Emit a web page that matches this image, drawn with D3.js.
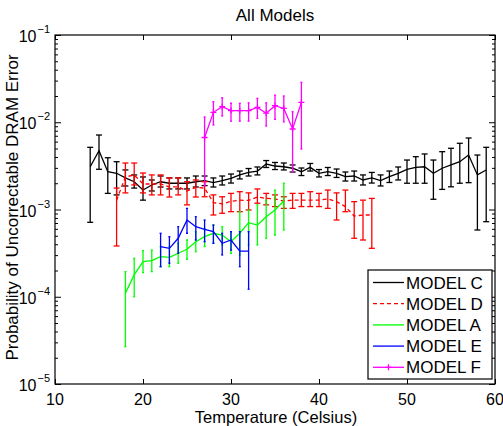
<!DOCTYPE html>
<html>
<head>
<meta charset="utf-8">
<script src="https://cdn.jsdelivr.net/npm/d3@7"></script>
<style>
  body { margin: 0; background: #fff; }
  text { font-family: "Liberation Sans", Arial, sans-serif; fill: #000; }
</style>
</head>
<body>
<div id="chart"></div>
<script>
// axis ticks
const xTicks = [10, 20, 30, 40, 50, 60];
const yExps = [-5, -4, -3, -2, -1];

// MODEL C
const tempC = [14,15,16,17,18,19,20,21,22,23,24,25,26,27,28,29,30,31,32,33,34,35,36,37,38,39,40,41,42,43,44,45,46,47,48,49,50,51,52,53,54,55,56,57,58,59];
const probC = [3.09e-3,4.72e-3,2.71e-3,2.60e-3,2.30e-3,2.08e-3,1.67e-3,1.91e-3,2.08e-3,2.00e-3,2.00e-3,2.00e-3,2.08e-3,2.14e-3,2.03e-3,2.14e-3,2.28e-3,2.49e-3,2.67e-3,2.76e-3,3.32e-3,3.15e-3,3.09e-3,2.97e-3,2.71e-3,3.04e-3,2.60e-3,2.71e-3,2.60e-3,2.38e-3,2.42e-3,2.18e-3,2.30e-3,2.14e-3,2.38e-3,2.60e-3,2.89e-3,3.04e-3,3.09e-3,2.60e-3,2.97e-3,3.24e-3,3.53e-3,4.21e-3,2.49e-3,2.84e-3];
const lowC  = [7.13e-4,2.89e-3,1.53e-3,1.47e-3,1.86e-3,1.76e-3,1.28e-3,1.63e-3,1.81e-3,1.72e-3,1.72e-3,1.72e-3,1.81e-3,1.88e-3,1.81e-3,1.91e-3,2.01e-3,2.24e-3,2.42e-3,2.49e-3,3.03e-3,2.87e-3,2.84e-3,2.69e-3,2.45e-3,2.76e-3,2.36e-3,2.45e-3,2.33e-3,2.12e-3,2.12e-3,1.91e-3,2.01e-3,1.86e-3,2.04e-3,2.18e-3,2.00e-3,2.00e-3,2.00e-3,1.31e-3,1.70e-3,1.82e-3,2.00e-3,2.03e-3,5.82e-4,7.25e-4];
const highC = [5.16e-3,7.14e-3,3.92e-3,3.53e-3,2.84e-3,2.49e-3,2.36e-3,2.18e-3,2.42e-3,2.30e-3,2.30e-3,2.30e-3,2.42e-3,2.42e-3,2.30e-3,2.42e-3,2.55e-3,2.76e-3,2.95e-3,3.07e-3,3.64e-3,3.46e-3,3.41e-3,3.24e-3,2.99e-3,3.37e-3,2.87e-3,3.03e-3,2.91e-3,2.69e-3,2.76e-3,2.49e-3,2.66e-3,2.49e-3,2.76e-3,3.07e-3,3.69e-3,4.03e-3,4.33e-3,3.69e-3,4.60e-3,5.03e-3,5.74e-3,6.60e-3,4.21e-3,5.16e-3];

// MODEL D
const tempD = [17,18,19,20,21,22,23,24,25,26,27,28,29,30,31,32,33,34,35,36,37,38,39,40,41,42,43,44,45,46];
const probD = [1.28e-3,2.36e-3,2.49e-3,1.96e-3,1.96e-3,1.96e-3,1.81e-3,1.82e-3,1.63e-3,1.79e-3,1.76e-3,1.20e-3,1.16e-3,1.24e-3,1.28e-3,1.27e-3,1.39e-3,1.34e-3,1.32e-3,1.25e-3,1.28e-3,1.28e-3,1.28e-3,1.28e-3,1.32e-3,1.23e-3,1.08e-3,8.42e-4,8.65e-4,8.65e-4];
const lowD  = [3.82e-4,1.55e-3,1.91e-3,1.55e-3,1.47e-3,1.47e-3,1.39e-3,1.47e-3,1.13e-3,1.39e-3,1.40e-3,8.65e-4,9.05e-4,9.44e-4,9.44e-4,9.87e-4,1.18e-3,1.13e-3,1.08e-3,1.03e-3,1.03e-3,1.08e-3,1.08e-3,1.08e-3,1.03e-3,7.58e-4,9.44e-4,4.68e-4,4.47e-4,3.59e-4];
const highD = [1.76e-3,3.41e-3,3.41e-3,2.62e-3,2.49e-3,2.49e-3,2.30e-3,2.30e-3,2.08e-3,2.18e-3,2.08e-3,1.47e-3,1.40e-3,1.53e-3,1.60e-3,1.55e-3,1.72e-3,1.53e-3,1.47e-3,1.40e-3,1.53e-3,1.53e-3,1.60e-3,1.53e-3,1.67e-3,1.55e-3,1.67e-3,1.23e-3,1.28e-3,1.34e-3];

// MODEL A
const tempA = [18,19,20,21,22,23,24,25,26,27,28,29,30,31,32,33,34,35,36];
const probA = [1.10e-4,1.78e-4,2.52e-4,2.59e-4,2.88e-4,2.83e-4,3.15e-4,3.50e-4,4.27e-4,4.88e-4,5.34e-4,5.10e-4,4.27e-4,5.34e-4,7.06e-4,6.64e-4,8.27e-4,9.87e-4,1.25e-3];
const lowA  = [2.68e-5,1.00e-4,1.89e-4,1.94e-4,2.21e-4,2.21e-4,2.42e-4,2.69e-4,3.28e-4,3.75e-4,4.10e-4,3.92e-4,3.15e-4,3.01e-4,3.92e-4,3.92e-4,4.68e-4,5.10e-4,5.82e-4];
const highA = [1.94e-4,2.76e-4,3.37e-4,3.43e-4,3.75e-4,3.75e-4,4.10e-4,4.47e-4,5.57e-4,6.09e-4,6.64e-4,6.35e-4,5.57e-4,9.44e-4,9.87e-4,1.13e-3,1.28e-3,1.67e-3,2.00e-3];

// MODEL E
const tempE = [22,23,24,25,26,27,28,29,30,31,32];
const probE = [3.75e-4,3.59e-4,4.68e-4,7.58e-4,6.35e-4,5.93e-4,5.57e-4,4.10e-4,4.47e-4,3.34e-4,3.34e-4];
const lowE  = [2.21e-4,2.42e-4,3.15e-4,5.34e-4,4.47e-4,4.27e-4,4.10e-4,3.01e-4,3.43e-4,2.21e-4,1.22e-4];
const highE = [5.34e-4,4.88e-4,6.35e-4,1.03e-3,8.27e-4,7.58e-4,6.64e-4,5.34e-4,5.57e-4,5.57e-4,5.57e-4];

// MODEL F
const tempF = [27,28,29,30,31,32,33,34,35,36,37,38];
const probF = [6.69e-3,1.30e-2,1.51e-2,1.36e-2,1.36e-2,1.36e-2,1.48e-2,1.27e-2,1.55e-2,1.44e-2,8.37e-3,1.69e-2];
const lowF  = [1.86e-3,9.30e-3,1.18e-2,1.03e-2,1.03e-2,1.03e-2,1.11e-2,9.06e-3,1.08e-2,1.01e-2,2.69e-3,4.93e-3];
const highF = [1.15e-2,1.72e-2,1.91e-2,1.65e-2,1.65e-2,1.67e-2,1.88e-2,1.67e-2,2.05e-2,2.00e-2,1.32e-2,2.87e-2];

const legendNames = ["MODEL C", "MODEL D", "MODEL A", "MODEL E", "MODEL F"];

const width = 503, height = 426;
const pLeft = 55, pRight = 495, pTop = 35, pBottom = 384;

const svg = d3.select("#chart").append("svg")
    .attr("width", width)
    .attr("height", height);

const x = d3.scaleLinear().domain([10, 60]).range([pLeft, pRight]);
const y = d3.scaleLog().domain([1e-5, 1e-1]).range([pBottom, pTop]);

const majorY = yExps.map(e => Math.pow(10, e));
let minorY = [];
yExps.slice(0, -1).forEach(e => {
    for (let k = 2; k <= 9; k++) minorY.push(k * Math.pow(10, e));
});

// ticks, all pointing inwards
function tickAxis(axis, tr, vals, size) {
    const g = svg.append("g")
        .attr("transform", tr)
        .call(axis.tickValues(vals).tickSizeInner(size).tickSizeOuter(0).tickFormat(""));
    g.select(".domain").remove();
    g.selectAll("line").attr("stroke", "#000");
    return g;
}
tickAxis(d3.axisBottom(x), `translate(0,${pBottom})`, xTicks, -5);
tickAxis(d3.axisTop(x), `translate(0,${pTop})`, xTicks, -5);
tickAxis(d3.axisLeft(y), `translate(${pLeft},0)`, majorY, -6);
tickAxis(d3.axisLeft(y), `translate(${pLeft},0)`, minorY, -3);
tickAxis(d3.axisRight(y), `translate(${pRight},0)`, majorY, -6);
tickAxis(d3.axisRight(y), `translate(${pRight},0)`, minorY, -3);

// tick labels
svg.append("g").selectAll("text")
    .data(xTicks)
    .join("text")
    .attr("x", d => x(d))
    .attr("y", pBottom + 20.5)
    .attr("text-anchor", "middle")
    .attr("font-size", 16)
    .text(d => d);

const yl = svg.append("g").selectAll("text")
    .data(yExps)
    .join("text")
    .attr("x", pLeft - 5)
    .attr("y", d => y(Math.pow(10, d)) + 7)
    .attr("text-anchor", "end")
    .attr("font-size", 16);
yl.append("tspan").text("10");
yl.append("tspan")
    .attr("dy", -9)
    .attr("dx", 1)
    .attr("font-size", 11)
    .text(d => "\u2212" + Math.abs(d));

// box
svg.append("rect")
    .attr("x", pLeft).attr("y", pTop)
    .attr("width", pRight - pLeft).attr("height", pBottom - pTop)
    .attr("fill", "none").attr("stroke", "#000").attr("stroke-width", 1.2);

// titles
svg.append("text")
    .attr("x", (pLeft + pRight) / 2).attr("y", 21)
    .attr("text-anchor", "middle").attr("font-size", 17)
    .text("All Models");
svg.append("text")
    .attr("x", (pLeft + pRight) / 2 + 1).attr("y", 423)
    .attr("text-anchor", "middle").attr("font-size", 16.5)
    .text("Temperature (Celsius)");
svg.append("text")
    .attr("transform", `translate(18,${(pTop + pBottom) / 2 - 2}) rotate(-90)`)
    .attr("text-anchor", "middle").attr("font-size", 17)
    .text("Probability of Uncorrectable DRAM Error");

// series with error bars
function drawSeries(temps, vals, lows, highs, color, cap, dash, marker) {
    const g = svg.append("g");
    const idx = d3.range(temps.length);
    g.selectAll(".eb").data(idx).join("line")
        .attr("x1", i => x(temps[i])).attr("x2", i => x(temps[i]))
        .attr("y1", i => y(lows[i])).attr("y2", i => y(highs[i]))
        .attr("stroke", color).attr("stroke-width", 1.3);
    if (cap > 0) {
        [lows, highs].forEach(arr => {
            g.append("g").selectAll("line").data(idx).join("line")
                .attr("x1", i => x(temps[i]) - cap).attr("x2", i => x(temps[i]) + cap)
                .attr("y1", i => y(arr[i])).attr("y2", i => y(arr[i]))
                .attr("stroke", color).attr("stroke-width", 1.3);
        });
    }
    const line = d3.line().x(i => x(temps[i])).y(i => y(vals[i]));
    g.append("path").datum(idx)
        .attr("d", line)
        .attr("fill", "none")
        .attr("stroke", color)
        .attr("stroke-width", 1.3)
        .attr("stroke-dasharray", dash ? "4,3" : null);
    if (marker) {
        g.append("g").selectAll("path").data(idx).join("path")
            .attr("d", i => `M${x(temps[i]) - 3},${y(vals[i])}h6M${x(temps[i])},${y(vals[i]) - 3}v6`)
            .attr("stroke", color).attr("stroke-width", 1.3);
    }
}

const colors = ["#000000", "#ff0000", "#00ff00", "#0000ff", "#ff00ff"];
drawSeries(tempC, probC, lowC, highC, colors[0], 3, false, false);
drawSeries(tempD, probD, lowD, highD, colors[1], 3, true, false);
drawSeries(tempA, probA, lowA, highA, colors[2], 1, false, false);
drawSeries(tempE, probE, lowE, highE, colors[3], 1, false, false);
drawSeries(tempF, probF, lowF, highF, colors[4], 1, false, true);

// legend
const lg = svg.append("g");
lg.append("rect")
    .attr("x", 368).attr("y", 270).attr("width", 124).attr("height", 109)
    .attr("fill", "#fff").attr("stroke", "#000").attr("stroke-width", 1.2);
const rows = lg.selectAll("g.row").data(legendNames).join("g")
    .attr("transform", (d, i) => `translate(0,${282.5 + i * 21.2})`);
rows.append("line")
    .attr("x1", 373).attr("x2", 404).attr("y1", 0).attr("y2", 0)
    .attr("stroke", (d, i) => colors[i]).attr("stroke-width", 1.3)
    .attr("stroke-dasharray", (d, i) => i === 1 ? "4,3" : null);
rows.filter((d, i) => i === 4).append("path")
    .attr("d", "M385.5,0h6M388.5,-3v6")
    .attr("stroke", colors[4]).attr("stroke-width", 1.3);
rows.append("text")
    .attr("x", 406).attr("y", 6)
    .attr("font-size", 17)
    .text(d => d);
</script>
</body>
</html>
